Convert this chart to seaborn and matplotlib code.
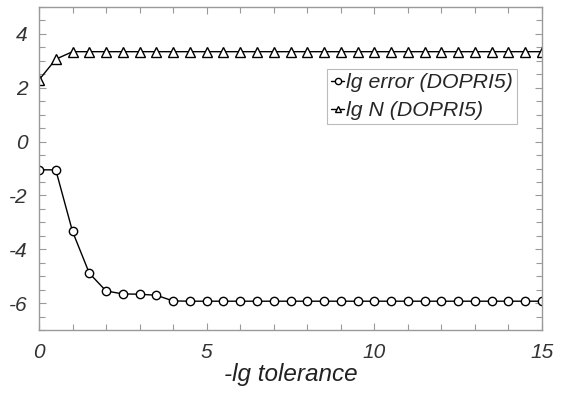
import numpy as np
import pandas as pd
import matplotlib
matplotlib.use("Agg")
import matplotlib.pyplot as plt
import seaborn as sns
from matplotlib.ticker import MultipleLocator

tolerance = [0, 0.5, 1, 1.5, 2, 2.5, 3, 3.5, 4, 4.5, 5, 5.5, 6, 6.5, 7, 7.5, 8, 8.5,
             9, 9.5, 10, 10.5, 11, 11.5, 12, 12.5, 13, 13.5, 14, 14.5, 15]
lg_error = [-1.05, -1.05, -3.34, -4.89, -5.55, -5.66, -5.67, -5.71, -5.92, -5.93, -5.93,
            -5.93, -5.93, -5.93, -5.93, -5.93, -5.93, -5.93, -5.93, -5.93, -5.93, -5.93,
            -5.93, -5.93, -5.93, -5.93, -5.93, -5.93, -5.93, -5.93, -5.93]
lg_N = [2.29, 3.06, 3.34, 3.34, 3.34, 3.34, 3.34, 3.34, 3.34, 3.34, 3.34, 3.34, 3.34,
        3.34, 3.34, 3.34, 3.34, 3.34, 3.34, 3.34, 3.34, 3.34, 3.34, 3.34, 3.34, 3.34,
        3.34, 3.34, 3.34, 3.34, 3.34]
series_names = ["lg error (DOPRI5)", "lg N (DOPRI5)"]

df_err = pd.DataFrame({"x": tolerance, "y": lg_error})
df_n = pd.DataFrame({"x": tolerance, "y": lg_N})

sns.set_style("ticks")
plt.rcParams['font.family'] = ['Liberation Sans', 'DejaVu Sans']
plt.rcParams['font.style'] = 'italic'
plt.rcParams['axes.unicode_minus'] = False

fig = plt.figure(figsize=(5.71, 3.94), dpi=100)
ax = fig.add_axes([39/571, 1 - 330/394, 503/571, 323/394])

common = dict(color="black", linewidth=1.0, markerfacecolor="white",
              markeredgecolor="black", markeredgewidth=1.0)
sns.lineplot(data=df_err, x="x", y="y", ax=ax, marker="o", markersize=6,
             label=series_names[0], **common)
sns.lineplot(data=df_n, x="x", y="y", ax=ax, marker="^", markersize=6.5,
             label=series_names[1], **common)

ax.set_xlim(0, 15)
ax.set_ylim(-7, 5)
ax.xaxis.set_major_locator(MultipleLocator(5))
ax.xaxis.set_minor_locator(MultipleLocator(1))
ax.yaxis.set_major_locator(MultipleLocator(2))
ax.yaxis.set_minor_locator(MultipleLocator(0.5))

spine_col = "#9a9a9a"
for s in ax.spines.values():
    s.set_visible(True)
    s.set_color(spine_col)
    s.set_linewidth(1.0)

ax.tick_params(axis="both", which="both", direction="in", top=True, right=True,
               color=spine_col, labelcolor="#333333", labelsize=15, width=0.8)
ax.tick_params(axis="both", which="major", length=5)
ax.tick_params(axis="both", which="minor", length=4)
ax.tick_params(axis="x", which="major", pad=9)
ax.tick_params(axis="y", which="major", pad=8)
for lab in ax.get_xticklabels() + ax.get_yticklabels():
    lab.set_fontstyle("italic")

ax.set_xlabel("-lg tolerance", fontsize=17.5, fontstyle="italic", color="#222222", labelpad=1)
ax.set_ylabel("")

leg = ax.legend(loc="upper left", bbox_to_anchor=(0.573, 0.808), borderaxespad=0,
                frameon=True, fancybox=False, edgecolor="#aaaaaa",
                handlelength=0.6, handletextpad=0.1, markerscale=0.75,
                borderpad=0.2, labelspacing=0.42, prop={"style": "italic", "size": 15.3})
leg.get_frame().set_linewidth(0.8)

fig.savefig("out.png", dpi=100)
